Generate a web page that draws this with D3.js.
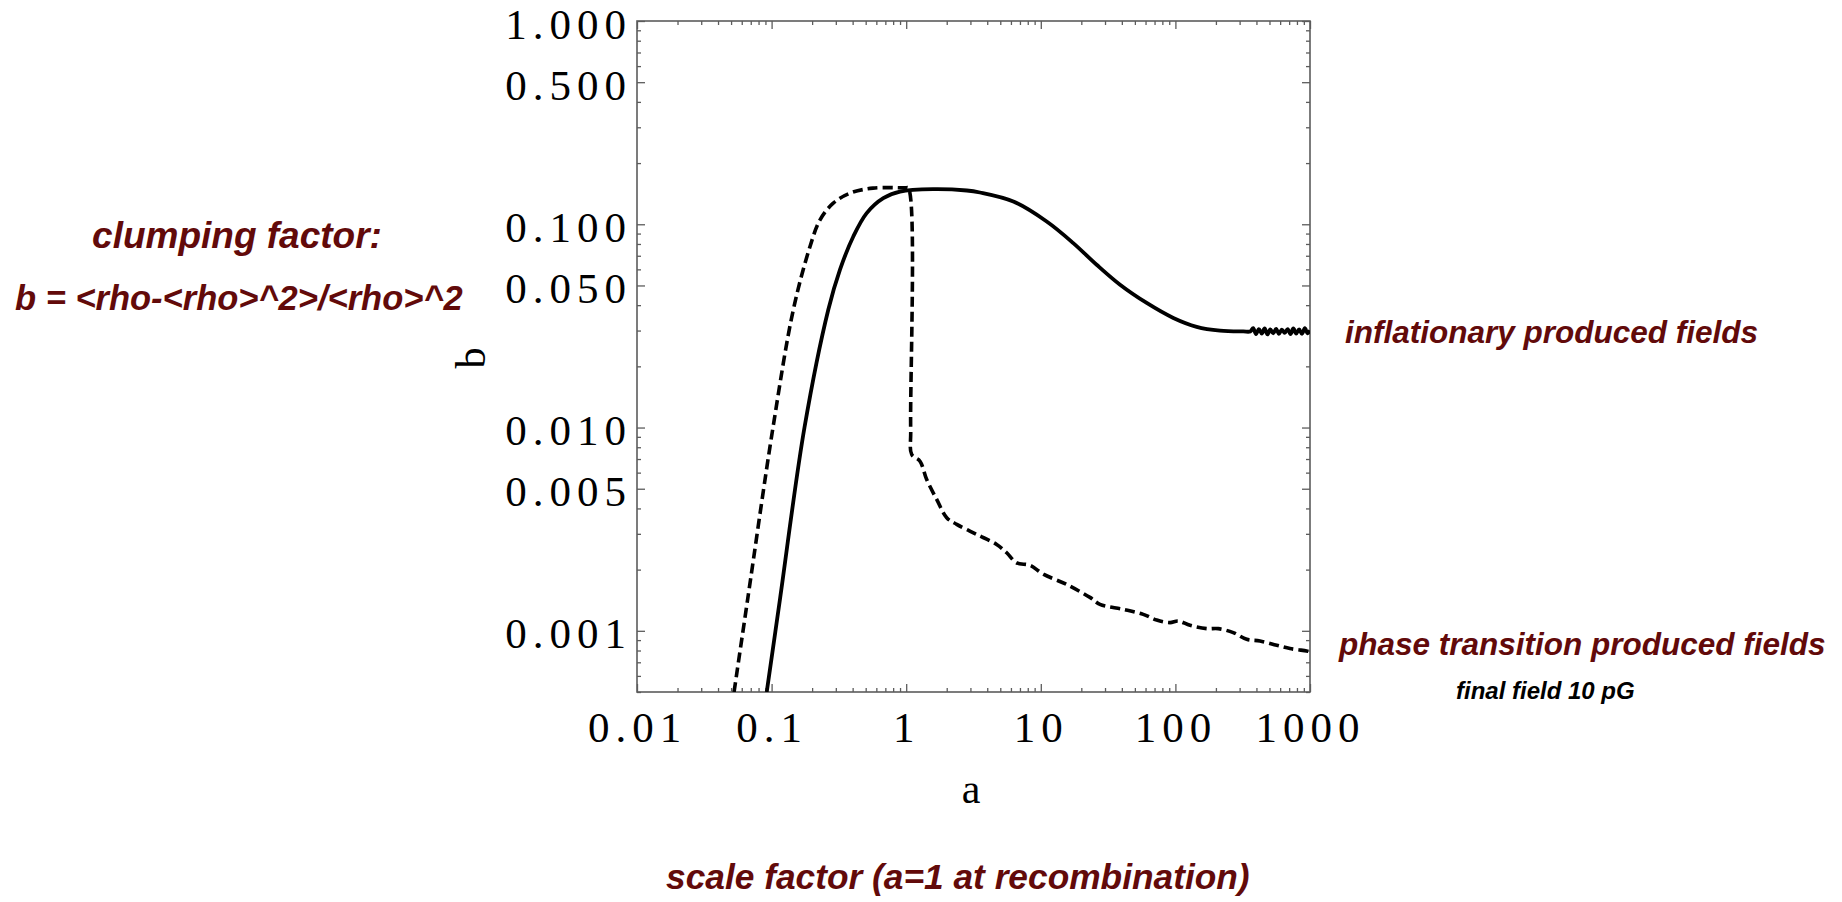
<!DOCTYPE html>
<html><head><meta charset="utf-8">
<script src="https://cdn.jsdelivr.net/npm/d3@7"></script>
<style>
html,body{margin:0;padding:0;background:#fff;}
svg{display:block;}
</style></head>
<body>
<svg id="chart" width="1842" height="902"></svg>
<script>
// ---- data ----
const xTickValues = [0.01, 0.1, 1, 10, 100, 1000];
const xTickLabels = ["0.01", "0.1", "1", "10", "100", "1000"];
const yTickValues = [1, 0.5, 0.1, 0.05, 0.01, 0.005, 0.001];
const yTickLabels = ["1.000", "0.500", "0.100", "0.050", "0.010", "0.005", "0.001"];

// inflationary produced fields (solid)
const inflA = [0.092, 0.1154, 0.1755, 0.2637, 0.3222, 0.4046, 0.5087, 0.676, 0.90, 1.58, 2.82, 3.53, 6.25, 11.06, 17.43, 26.0, 38.8, 61.2, 96.5, 143.9, 214.5, 319.6,
  360, 378, 397, 417, 438, 460, 483, 507, 533, 560, 588, 618, 649, 682, 716, 752, 790, 830, 872, 916, 958, 1000];
const inflB = [0.0005, 0.00143, 0.01, 0.038, 0.0598, 0.0871, 0.1135, 0.1345, 0.1449, 0.149, 0.1466, 0.1433, 0.1294, 0.1032, 0.0808, 0.0632, 0.0504, 0.041, 0.0346, 0.0313, 0.02997, 0.0297,
  0.0297, 0.0308, 0.0288, 0.0305, 0.0290, 0.0307, 0.0287, 0.0304, 0.0291, 0.0306, 0.0289, 0.0303, 0.0292, 0.0305, 0.0288, 0.0307, 0.0290, 0.0304, 0.0289, 0.0308, 0.0291, 0.0300];

// phase transition produced fields (dashed)
const phaseA = [0.0526, 0.0664, 0.1024, 0.145, 0.193, 0.229, 0.287, 0.3825, 0.567, 0.98, 1.036, 1.080, 1.099, 1.266, 1.42, 1.685, 2.0, 2.373, 3.34, 4.70, 5.58, 6.62, 8.32, 10.44, 15.57, 23.2, 27.5, 41.0, 57.7, 72.6, 91.2, 105, 128.4, 170.8, 208.3, 269, 338.6, 425, 565.7, 710, 945, 1000];
const phaseB = [0.0005, 0.00143, 0.01, 0.038, 0.0778, 0.1052, 0.127, 0.1423, 0.1506, 0.151, 0.151, 0.00977, 0.00737, 0.00683, 0.00555, 0.00443, 0.0036, 0.00334, 0.00298, 0.00266, 0.00242, 0.00216, 0.0021, 0.0019, 0.00169, 0.00146, 0.00135, 0.001276, 0.001205, 0.00113, 0.001097, 0.001117, 0.001064, 0.001025, 0.001025, 0.00098, 0.000908, 0.000891, 0.000849, 0.000818, 0.000796, 0.00079];

// ---- layout ----
const L = 637, R = 1310, T = 21, B = 692;
const svg = d3.select("#chart");
const x = d3.scaleLog().domain([0.01, 1000]).range([L, R]);
const y = d3.scaleLog().domain([0.0005, 1]).range([B, T]);

const frameColor = "#5c5c5c";
const serif = "'Liberation Serif','Times New Roman',serif";
const sans = "'Liberation Sans',Arial,Helvetica,sans-serif";
const red = "#620a0a";

const xMinor = x.ticks().filter(v => !xTickValues.some(t => Math.abs(t - v) / t < 1e-9));
const yMinor = y.ticks().filter(v => !yTickValues.some(t => Math.abs(t - v) / t < 1e-9));

function styleAxis(g) {
  g.select(".domain").remove();
  g.selectAll("line").attr("stroke", frameColor).attr("stroke-width", 1.3);
}

// bottom
svg.append("g").attr("transform", `translate(0,${B})`)
  .call(d3.axisBottom(x).tickValues(xTickValues).tickSize(-8).tickSizeOuter(0)
    .tickFormat((d, i) => xTickLabels[i]))
  .call(styleAxis)
  .call(g => g.selectAll("text").attr("y", 50).attr("dy", 0)
    .attr("font-family", serif).attr("font-size", 43).attr("letter-spacing", 6).attr("fill", "#000"));
svg.append("g").attr("transform", `translate(0,${B})`)
  .call(d3.axisBottom(x).tickValues(xMinor).tickSize(-4).tickSizeOuter(0).tickFormat(""))
  .call(styleAxis);
// top
svg.append("g").attr("transform", `translate(0,${T})`)
  .call(d3.axisTop(x).tickValues(xTickValues).tickSize(-8).tickSizeOuter(0).tickFormat(""))
  .call(styleAxis);
svg.append("g").attr("transform", `translate(0,${T})`)
  .call(d3.axisTop(x).tickValues(xMinor).tickSize(-4).tickSizeOuter(0).tickFormat(""))
  .call(styleAxis);
// left
svg.append("g").attr("transform", `translate(${L},0)`)
  .call(d3.axisLeft(y).tickValues(yTickValues).tickSize(-8).tickSizeOuter(0)
    .tickFormat((d, i) => yTickLabels[i]))
  .call(styleAxis)
  .call(g => g.selectAll("text").attr("x", -5).attr("y", 17).attr("dy", 0)
    .attr("font-family", serif).attr("font-size", 43).attr("letter-spacing", 6).attr("fill", "#000"));
svg.append("g").attr("transform", `translate(${L},0)`)
  .call(d3.axisLeft(y).tickValues(yMinor).tickSize(-4).tickSizeOuter(0).tickFormat(""))
  .call(styleAxis);
// right
svg.append("g").attr("transform", `translate(${R},0)`)
  .call(d3.axisRight(y).tickValues(yTickValues).tickSize(-8).tickSizeOuter(0).tickFormat(""))
  .call(styleAxis);
svg.append("g").attr("transform", `translate(${R},0)`)
  .call(d3.axisRight(y).tickValues(yMinor).tickSize(-4).tickSizeOuter(0).tickFormat(""))
  .call(styleAxis);

// frame
svg.append("rect").attr("x", L).attr("y", T).attr("width", R - L).attr("height", B - T)
  .attr("fill", "none").attr("stroke", frameColor).attr("stroke-width", 1.6);

// clip
svg.append("clipPath").attr("id", "clip").append("rect")
  .attr("x", L).attr("y", T).attr("width", R - L).attr("height", B - T);

const line = d3.line().x(d => x(d[0])).y(d => y(d[1])).curve(d3.curveCatmullRom.alpha(0.5));
const inflData = inflA.map((a, i) => [a, inflB[i]]);
const phaseData = phaseA.map((a, i) => [a, phaseB[i]]);

const plot = svg.append("g").attr("clip-path", "url(#clip)");
plot.append("path").datum(phaseData).attr("d", line)
  .attr("fill", "none").attr("stroke", "#000").attr("stroke-width", 3.6)
  .attr("stroke-dasharray", "10,5");
plot.append("path").datum(inflData).attr("d", line)
  .attr("fill", "none").attr("stroke", "#000").attr("stroke-width", 3.8)
  .attr("stroke-linejoin", "round");

// axis titles
svg.append("text").attr("transform", "translate(485,358) rotate(-90)")
  .attr("text-anchor", "middle").attr("font-family", serif).attr("font-size", 42).text("b");
svg.append("text").attr("x", 971).attr("y", 803)
  .attr("text-anchor", "middle").attr("font-family", serif).attr("font-size", 42).text("a");

// annotations
function note(txt, xx, yy, size, color, anchor) {
  svg.append("text").attr("x", xx).attr("y", yy).attr("text-anchor", anchor || "start")
    .attr("font-family", sans).attr("font-weight", "bold").attr("font-style", "italic")
    .attr("font-size", size).attr("fill", color).text(txt);
}
note("clumping factor:", 237, 248, 37, red, "middle");
note("b = <rho-<rho>^2>/<rho>^2", 15, 310, 34.5, red);
note("inflationary produced fields", 1345, 343, 31.5, red);
note("phase transition produced fields", 1339, 655, 31.5, red);
note("final field 10 pG", 1456, 699, 24, "#000");
note("scale factor (a=1 at recombination)", 666, 889, 35.3, red);
</script>
</body></html>
